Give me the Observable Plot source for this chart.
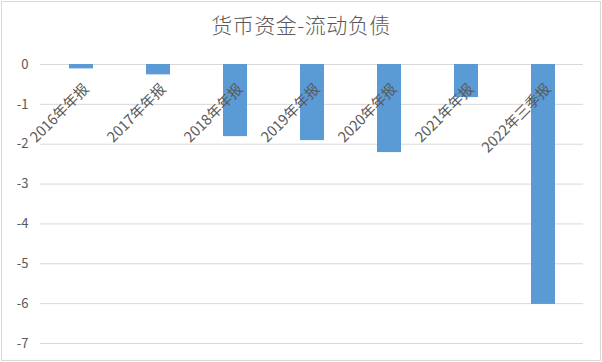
<!DOCTYPE html>
<html>
<head>
<meta charset="utf-8">
<script src="https://cdn.jsdelivr.net/npm/d3@7"></script>
<script src="https://cdn.jsdelivr.net/npm/@observablehq/plot@0.6"></script>
<style>
  html, body { margin: 0; padding: 0; background: #fff; }
  #frame {
    position: absolute; left: 1px; top: 1px; width: 600px; height: 360px;
    box-sizing: border-box; border: 1px solid #d9d9d9; background: #fff;
    font-family: "Noto Sans CJK SC", "Noto Sans", sans-serif;
  }
  #title {
    height: 44px; line-height: 44px; text-align: center;
    font-size: 21px; color: #595959; letter-spacing: 0.5px; font-weight: 300;
  }
  #chart svg { display: block; }
</style>
</head>
<body>
<div id="frame">
  <div id="title">货币资金-流动负债</div>
  <div id="chart"></div>
</div>
<script>
const categories = ["2016年年报", "2017年年报", "2018年年报", "2019年年报", "2020年年报", "2021年年报", "2022年三季报"];
const values = [-0.11, -0.26, -1.81, -1.91, -2.21, -0.83, -6.02];
const yTicks = [0, -1, -2, -3, -4, -5, -6, -7];

const data = categories.map((c, i) => ({label: c, value: values[i]}));

const chart = Plot.plot({
  width: 598,
  height: 313,
  marginTop: 18,
  marginBottom: 16,
  marginLeft: 38,
  marginRight: 17,
  style: {fontFamily: '"Noto Sans CJK SC", "Noto Sans", sans-serif', fontSize: "13px", color: "#595959", background: "#fff"},
  x: {domain: categories, paddingInner: 0.69, paddingOuter: 0.345, axis: null},
  y: {domain: [-7, 0], ticks: yTicks, tickSize: 0, tickPadding: 12, tickFormat: d => String(d), label: null},
  marks: [
    Plot.ruleY(yTicks, {stroke: "#d9d9d9", strokeWidth: 1}),
    Plot.barY(data, {x: "label", y: "value", fill: "#5b9bd5"}),
    Plot.text(data, {x: "label", y: () => 0, text: "label", rotate: -45, textAnchor: "end", dx: 5, dy: 22, fill: "#595959", fontSize: 14.5})
  ]
});
document.getElementById("chart").appendChild(chart);
</script>
</body>
</html>
